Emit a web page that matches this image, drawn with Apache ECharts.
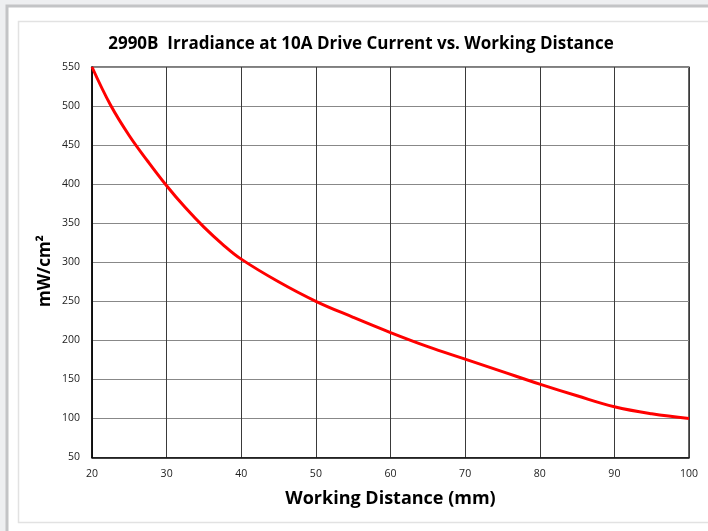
<!DOCTYPE html>
<html><head><meta charset="utf-8">
<script src="https://cdn.jsdelivr.net/npm/echarts@6/dist/echarts.min.js"></script>
<style>html,body{margin:0;padding:0;background:#fff}#c{width:708px;height:531px}</style>
</head><body><div id="c"></div>
<script>
const titleText = '2990B  Irradiance at 10A Drive Current vs. Working Distance';
const xName = 'Working Distance (mm)';
const yName = 'mW/cm²';
const distance = [20, 22.5, 25, 27.5, 30, 32.5, 35, 37.5, 40, 45, 50, 55, 60, 65, 70, 75, 80, 85, 90, 95, 100];
const irradiance = [550, 501, 462, 429, 398, 370, 345, 323, 304, 275, 250, 229.5, 210, 192, 176, 160, 144, 129, 115, 106, 100];

const chart = echarts.init(document.getElementById('c'), null, {renderer: 'canvas'});
const F = 'Open Sans, Noto Sans, sans-serif';
chart.setOption({
  animation: false,
  backgroundColor: '#fff',
  graphic: [
    {type: 'rect', shape: {x: 0, y: 0, width: 708, height: 531}, style: {fill: '#eeeff1'}, z: -10, silent: true},
    {type: 'rect', shape: {x: 7, y: 6, width: 720, height: 540}, style: {fill: '#fff', stroke: '#c3c4c6', lineWidth: 3}, z: -9, silent: true},
    {type: 'rect', shape: {x: 18.5, y: 21.5, width: 720, height: 501}, style: {fill: '#fff', stroke: '#e2e2e2', lineWidth: 1.5}, z: -8, silent: true},
    {type: 'text', x: 45, y: 271, rotation: Math.PI / 2, z: 10,
     style: {text: yName, font: 'bold 17px Open Sans, Noto Sans, sans-serif', fill: '#000', align: 'center', verticalAlign: 'middle'}}
  ],
  title: {
    text: titleText, left: 356, top: 31, textAlign: 'center',
    textStyle: {fontFamily: F, fontWeight: 'bold', fontSize: 17, color: '#000'}
  },
  grid: {left: 92, right: 19, top: 67, bottom: 73.5, show: true, borderColor: '#000', borderWidth: 1.2, backgroundColor: 'transparent'},
  xAxis: {
    type: 'value', min: 20, max: 100, interval: 10,
    name: xName, nameLocation: 'middle', nameGap: 32,
    nameTextStyle: {fontFamily: F, fontWeight: 'bold', fontSize: 18, color: '#000'},
    axisLine: {show: true, lineStyle: {color: '#000', width: 1.5}},
    axisTick: {show: false},
    axisLabel: {fontFamily: F, fontSize: 10.5, color: '#222', margin: 11},
    splitLine: {show: true, lineStyle: {color: '#3a3a3a', width: 1}}
  },
  yAxis: {
    type: 'value', min: 50, max: 550, interval: 50,
    axisLine: {show: true, lineStyle: {color: '#000', width: 1.5}},
    axisTick: {show: false},
    axisLabel: {fontFamily: F, fontSize: 10.5, color: '#222', margin: 12},
    splitLine: {show: true, lineStyle: {color: '#888', width: 1.2}}
  },
  series: [{
    type: 'line', data: distance.map((d, i) => [d, irradiance[i]]),
    smooth: 0.4, symbol: 'none', lineStyle: {color: '#ff0000', width: 3}
  }]
});
</script></body></html>
